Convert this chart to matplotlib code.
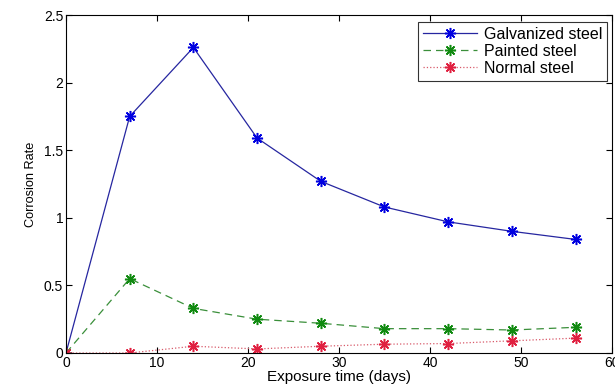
import numpy as np
import matplotlib.pyplot as plt

# Data
days = [0, 7, 14, 21, 28, 35, 42, 49, 56]
galvanized = [0, 1.75, 2.26, 1.59, 1.27, 1.08, 0.97, 0.90, 0.84]
painted = [0, 0.55, 0.33, 0.25, 0.22, 0.18, 0.18, 0.17, 0.19]
normal = [0, 0, 0.05, 0.03, 0.05, 0.065, 0.07, 0.09, 0.11]

plt.rcParams['font.family'] = ['Liberation Sans', 'DejaVu Sans']

fig = plt.figure(figsize=(6.15, 3.92), dpi=100)
ax = fig.add_axes([0.1073, 0.0995, 0.8877, 0.8622])

# MATLAB-style asterisk marker (8 spokes)
star = (8, 2, 0)
ax.plot(days, galvanized, '-', color='#2626a0', marker=star, markersize=8,
        markeredgecolor='#0000e0', markeredgewidth=1.1, linewidth=0.9,
        label='Galvanized steel')
ax.plot(days, painted, '--', color='#3a8f3a', marker=star, markersize=8,
        markeredgecolor='#108a10', markeredgewidth=1.1, linewidth=0.9,
        dashes=(6, 4), label='Painted steel')
ax.plot(days, normal, ':', color='#d85a6a', marker=star, markersize=8,
        markeredgecolor='#e02040', markeredgewidth=1.1, linewidth=0.9,
        label='Normal steel')

ax.set_xlim(0, 60)
ax.set_ylim(0, 2.5)
ax.set_xticks(np.arange(0, 61, 10))
ax.set_yticks([0, 0.5, 1, 1.5, 2, 2.5])
ax.set_yticklabels(['0', '0.5', '1', '1.5', '2', '2.5'])
ax.tick_params(direction='in', top=True, right=True, labelsize=10, length=4, pad=2)
for s in ax.spines.values():
    s.set_linewidth(0.8)

ax.set_xlabel('Exposure time (days)', fontsize=11, labelpad=0)
ax.set_ylabel('Corrosion Rate', fontsize=9.2, labelpad=5)

leg = ax.legend(loc='upper right', fontsize=11.5, frameon=True, fancybox=False,
                edgecolor='black', borderpad=0.3, labelspacing=0.12,
                handlelength=3.4, handletextpad=0.4, borderaxespad=0,
                bbox_to_anchor=(0.991, 0.979))
leg.get_frame().set_linewidth(0.8)

fig.savefig('out.png', dpi=100)
